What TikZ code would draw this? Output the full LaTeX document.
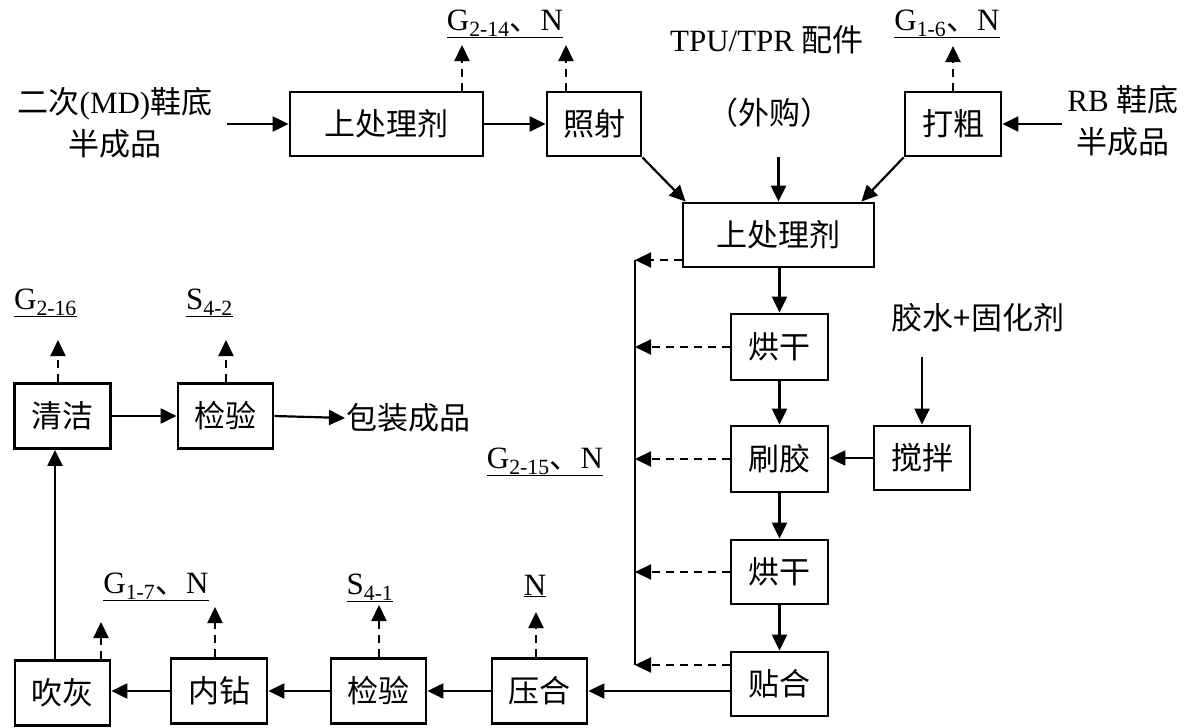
\documentclass[tikz,border=0pt]{standalone}
\usepackage{fontspec}
\setmainfont{Liberation Serif}
\newfontfamily\cjk{Noto Sans CJK SC}
\usetikzlibrary{arrows.meta,calc}
\newcommand{\fsz}{\fontsize{31}{42}\selectfont}
\tikzset{
  box/.style={draw, line width=2.8pt, inner sep=0pt, font=\fsz\cjk},
  txt/.style={inner sep=1pt, font=\fsz, align=center},
  arr/.style={-{Triangle[length=16pt,width=15pt]}, line width=2.2pt},
  darr/.style={arr, dash pattern=on 8pt off 6pt},
}
\begin{document}
\begin{tikzpicture}[x=1pt,y=-1pt]
\fill[white] (0,0) rectangle (1195,728);
\useasboundingbox (0,0) rectangle (1195,728);
% top row
\node[box, minimum width=193pt, minimum height=64pt] (A) at (386.5,124) {上处理剂};
\node[box, minimum width=94pt, minimum height=64pt] (B) at (594,124) {照射};
\node[box, minimum width=96pt, minimum height=64pt] (C) at (953,124) {打粗};
\node[box, minimum width=191pt, minimum height=64pt] (M) at (778.5,235) {上处理剂};
% column
\node[box, minimum width=97pt, minimum height=66pt] (D1) at (779.5,347) {烘干};
\node[box, minimum width=97pt, minimum height=66pt] (D2) at (779.5,459) {刷胶};
\node[box, minimum width=97pt, minimum height=64pt] (D3) at (779.5,572) {烘干};
\node[box, minimum width=97pt, minimum height=64pt] (D4) at (779.5,684) {贴合};
\node[box, minimum width=96pt, minimum height=64pt] (E) at (922,458) {搅拌};
% bottom row
\node[box, minimum width=95pt, minimum height=65pt] (F) at (539.5,691) {压合};
\node[box, minimum width=95pt, minimum height=65pt] (G) at (378.5,691) {检验};
\node[box, minimum width=96pt, minimum height=65pt] (H) at (219,691) {内钻};
\node[box, minimum width=95pt, minimum height=65pt] (I) at (62.5,693) {吹灰};
% left middle
\node[box, minimum width=96pt, minimum height=65pt] (J) at (62.5,416) {清洁};
\node[box, minimum width=95pt, minimum height=65pt] (K) at (225.5,416) {检验};

% texts
\node[txt] (src1) at (115,123) {{\cjk 二次}(MD){\cjk 鞋底}\\{\cjk 半成品}};
\node[txt] (src2) at (1123,121) {RB {\cjk 鞋底}\\{\cjk 半成品}};
\node[txt] (tpu) at (767,40) {TPU/TPR {\cjk 配件}};
\node[txt, font=\fsz\cjk] (wg) at (769,113) {（外购）};
\node[txt, font=\fsz\cjk] (glue) at (978,318) {胶水+固化剂};
\node[txt, font=\fsz\cjk, anchor=west] (pk) at (345,418) {包装成品};
\node[txt] (L1) at (505,24) {\underline{G\textsubscript{2-14}{\cjk 、}N}};
\node[txt] (L2) at (947,24) {\underline{G\textsubscript{1-6}{\cjk 、}N}};
\node[txt] (L3) at (45.5,303) {\underline{G\textsubscript{2-16}}};
\node[txt] (L4) at (209.5,303) {\underline{S\textsubscript{4-2}}};
\node[txt] (L5) at (545,462) {\underline{G\textsubscript{2-15}{\cjk 、}N}};
\node[txt] (L6) at (156,587) {\underline{G\textsubscript{1-7}{\cjk 、}N}};
\node[txt] (L7) at (370,588) {\underline{S\textsubscript{4-1}}};
\node[txt] (L8) at (535,586) {\underline{N}};

% coordinates
\coordinate (lin) at (227,124);
\coordinate (rin) at (1062,124);
\coordinate (wgs) at (778.5,157);
\coordinate (gin) at (922,357);
\coordinate (t1) at (462,45);
\coordinate (t2) at (566,45);
\coordinate (t3) at (953,46);
\coordinate (t4) at (58,340);
\coordinate (t5) at (226,340);
\coordinate (t6) at (101,622);
\coordinate (t7) at (215,607);
\coordinate (t8) at (379,605);
\coordinate (t9) at (536,612);
\coordinate (fbtop) at (635,260);
\coordinate (fbbot) at (635,665);

% solid arrows top
\draw[arr] (lin) -- (A.west |- lin);
\draw[arr] (A.east) -- (B.west);
\draw[arr] (rin) -- (C.east |- rin);
\draw[arr] (B.south east) -- ([xshift=4pt]M.north west);
\draw[arr] (C.south west) -- ([xshift=-14pt]M.north east);
\draw[arr] (wgs) -- (M.north -| wgs);
% column
\draw[arr] (M.south -| D1.north) -- (D1.north);
\draw[arr] (D1.south) -- (D2.north);
\draw[arr] (D2.south) -- (D3.north);
\draw[arr] (D3.south) -- (D4.north);
\draw[arr] (gin) -- (E.north);
\draw[arr] (E.west) -- (D2.east |- E.west);
% bottom
\draw[arr] (D4.west |- F.east) -- (F.east);
\draw[arr] (F.west) -- (G.east);
\draw[arr] (G.west) -- (H.east);
\draw[arr] (H.west) -- (I.east |- H.west);
\draw[arr] ([xshift=-7.5pt]I.north) -- ([xshift=-7.5pt]J.south);
\draw[arr] (J.east) -- (K.west);
\draw[arr] (K.east) -- (pk.west);

% dashed emissions
\draw[darr] (A.north -| t1) -- (t1);
\draw[darr] (B.north -| t2) -- (t2);
\draw[darr] (C.north -| t3) -- (t3);
\draw[darr] (J.north -| t4) -- (t4);
\draw[darr] (K.north -| t5) -- (t5);
\draw[darr] (I.north -| t6) -- (t6);
\draw[darr] (H.north -| t7) -- (t7);
\draw[darr] (G.north -| t8) -- (t8);
\draw[darr] (F.north -| t9) -- (t9);

% feedback collector
\draw[line width=2.2pt] (fbtop) -- (fbbot);
\draw[darr] (M.west |- fbtop) -- (fbtop);
\draw[darr] (D1.west) -- (D1.west -| fbtop);
\draw[darr] (D2.west) -- (D2.west -| fbtop);
\draw[darr] (D3.west) -- (D3.west -| fbtop);
\draw[darr] (D4.west |- fbbot) -- (fbbot);
\end{tikzpicture}
\end{document}
